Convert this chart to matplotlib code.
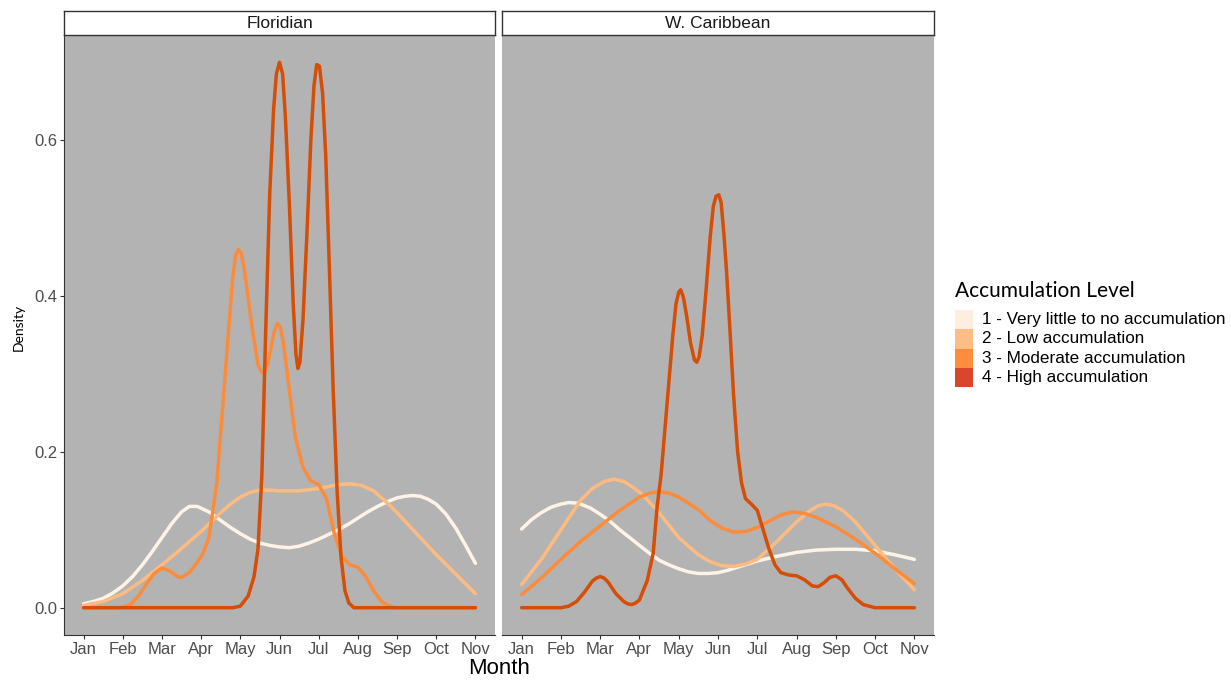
import matplotlib
matplotlib.use("Agg")
import matplotlib.pyplot as plt
from matplotlib.patches import Rectangle

plt.rcParams['font.family'] = ['Liberation Sans', 'DejaVu Sans']

# month ticks
month_labels = ["Jan", "Feb", "Mar", "Apr", "May", "Jun", "Jul", "Aug", "Sep", "Oct", "Nov"]
month_ticks = list(range(1, 12))
density_ticks = [0.0, 0.2, 0.4, 0.6]

facets = ["Floridian", "W. Caribbean"]
levels = ["1 - Very little to no accumulation", "2 - Low accumulation",
          "3 - Moderate accumulation", "4 - High accumulation"]

# Floridian densities
flo_m1 = [1, 1.25, 1.5, 1.75, 2, 2.25, 2.5, 2.75, 3, 3.25, 3.5, 3.7, 3.9, 4.2, 4.5, 4.75, 5, 5.25,
          5.5, 5.75, 6, 6.25, 6.5, 6.75, 7, 7.25, 7.5, 7.75, 8, 8.25, 8.5, 8.75, 9, 9.2, 9.4, 9.6,
          9.8, 10, 10.25, 10.5, 10.75, 11]
flo_d1 = [0.005, 0.008, 0.012, 0.019, 0.028, 0.04, 0.055, 0.072, 0.09, 0.108, 0.123, 0.13, 0.13,
          0.123, 0.112, 0.103, 0.095, 0.088, 0.083, 0.08, 0.078, 0.077, 0.079, 0.083, 0.088, 0.094,
          0.1, 0.107, 0.115, 0.123, 0.13, 0.136, 0.141, 0.143, 0.144, 0.143, 0.139, 0.133, 0.12,
          0.102, 0.08, 0.057]

flo_m2 = [1, 1.5, 2, 2.5, 3, 3.5, 4, 4.5, 4.75, 5, 5.25, 5.5, 5.75, 6, 6.5, 7, 7.5, 7.8, 8.1, 8.4,
          8.7, 9, 9.5, 10, 10.5, 11]
flo_d2 = [0.003, 0.008, 0.018, 0.035, 0.055, 0.076, 0.098, 0.122, 0.133, 0.142, 0.148, 0.151, 0.151,
          0.15, 0.15, 0.153, 0.158, 0.159, 0.157, 0.15, 0.137, 0.122, 0.095, 0.068, 0.043, 0.018]

flo_m3 = [1, 1.8, 2.0, 2.2, 2.4, 2.6, 2.8, 3.0, 3.2, 3.4, 3.5, 3.7, 3.9, 4.05, 4.2, 4.4, 4.6, 4.8,
          4.88, 4.95, 5.02, 5.1, 5.3, 5.45, 5.55, 5.65, 5.75, 5.87, 5.95, 6.02, 6.1, 6.2, 6.4, 6.6,
          6.8, 7.0, 7.2, 7.4, 7.6, 7.8, 8.0, 8.2, 8.4, 8.6, 8.8, 9.0, 11]
flo_d3 = [0, 0, 0.001, 0.004, 0.015, 0.03, 0.044, 0.051, 0.047, 0.04, 0.039, 0.045, 0.058, 0.07,
          0.09, 0.16, 0.29, 0.42, 0.452, 0.46, 0.455, 0.435, 0.36, 0.312, 0.302, 0.305, 0.325, 0.355,
          0.365, 0.36, 0.34, 0.30, 0.22, 0.18, 0.163, 0.158, 0.14, 0.095, 0.065, 0.055, 0.052, 0.04,
          0.022, 0.008, 0.002, 0, 0]

flo_m4 = [1, 4.8, 5.0, 5.2, 5.35, 5.45, 5.55, 5.65, 5.75, 5.85, 5.92, 6.0, 6.08, 6.15, 6.25, 6.35,
          6.42, 6.47, 6.52, 6.6, 6.7, 6.8, 6.88, 6.95, 7.02, 7.1, 7.18, 7.27, 7.37, 7.47, 7.57, 7.67,
          7.77, 7.9, 11]
flo_d4 = [0, 0, 0.002, 0.015, 0.04, 0.075, 0.17, 0.36, 0.53, 0.64, 0.685, 0.70, 0.685, 0.63, 0.52,
          0.39, 0.325, 0.307, 0.315, 0.37, 0.48, 0.6, 0.67, 0.697, 0.695, 0.66, 0.58, 0.44, 0.28,
          0.15, 0.065, 0.022, 0.006, 0, 0]

# W. Caribbean densities
car_m1 = [1, 1.25, 1.5, 1.75, 2, 2.2, 2.45, 2.75, 3, 3.25, 3.5, 3.75, 4, 4.25, 4.5, 4.75, 5, 5.25,
          5.5, 5.75, 6, 6.25, 6.5, 7, 7.5, 8, 8.5, 9, 9.5, 10, 10.5, 11]
car_d1 = [0.101, 0.113, 0.122, 0.129, 0.133, 0.135, 0.134, 0.128, 0.12, 0.111, 0.1, 0.09, 0.08,
          0.07, 0.061, 0.055, 0.05, 0.046, 0.044, 0.044, 0.045, 0.048, 0.052, 0.06, 0.066, 0.071,
          0.074, 0.075, 0.075, 0.073, 0.068, 0.062]

car_m2 = [1, 1.5, 2, 2.5, 2.8, 3.1, 3.35, 3.6, 3.85, 4.1, 4.5, 5, 5.5, 5.8, 6.1, 6.4, 6.7, 7, 7.5,
          8, 8.3, 8.55, 8.75, 8.95, 9.2, 9.5, 10, 10.5, 11]
car_d2 = [0.03, 0.062, 0.1, 0.138, 0.153, 0.162, 0.165, 0.162, 0.154, 0.144, 0.122, 0.09, 0.068,
          0.059, 0.054, 0.053, 0.056, 0.062, 0.085, 0.11, 0.123, 0.131, 0.133, 0.131, 0.124, 0.11,
          0.08, 0.05, 0.023]

car_m3 = [1, 1.5, 2, 2.5, 3, 3.5, 4, 4.25, 4.5, 4.75, 5, 5.5, 5.8, 6.1, 6.4, 6.7, 7, 7.3, 7.6, 7.9,
          8.2, 8.5, 9, 9.5, 10, 10.5, 11]
car_d3 = [0.017, 0.038, 0.062, 0.085, 0.105, 0.125, 0.142, 0.147, 0.149, 0.147, 0.142, 0.126, 0.112,
          0.102, 0.097, 0.098, 0.103, 0.111, 0.119, 0.123, 0.121, 0.116, 0.104, 0.088, 0.07, 0.05,
          0.031]

car_m4 = [1, 2.0, 2.2, 2.4, 2.6, 2.8, 2.9, 3.0, 3.1, 3.2, 3.4, 3.6, 3.7, 3.8, 3.9, 4.0, 4.2, 4.35,
          4.45, 4.55, 4.7, 4.85, 4.93, 5.0, 5.05, 5.12, 5.2, 5.3, 5.4, 5.46, 5.52, 5.6, 5.7, 5.8,
          5.88, 5.95, 6.02, 6.08, 6.15, 6.22, 6.3, 6.4, 6.5, 6.6, 6.7, 6.85, 7.0, 7.15, 7.3, 7.45,
          7.6, 7.8, 8.0, 8.2, 8.4, 8.55, 8.7, 8.85, 9.0, 9.15, 9.3, 9.5, 9.7, 10.0, 11]
car_d4 = [0, 0, 0.002, 0.008, 0.02, 0.034, 0.038, 0.04, 0.038, 0.033, 0.018, 0.008, 0.005, 0.004,
          0.006, 0.01, 0.035, 0.07, 0.13, 0.17, 0.26, 0.35, 0.39, 0.405, 0.408, 0.398, 0.375, 0.34,
          0.318, 0.315, 0.322, 0.35, 0.41, 0.475, 0.515, 0.528, 0.53, 0.52, 0.48, 0.43, 0.36, 0.27,
          0.2, 0.16, 0.14, 0.133, 0.125, 0.1, 0.075, 0.055, 0.045, 0.042, 0.041, 0.036, 0.028,
          0.027, 0.032, 0.039, 0.041, 0.036, 0.025, 0.012, 0.004, 0, 0]

line_colors = ['#fff3e6', '#fdbb80', '#fd8c3a', '#d64d05']
key_colors = ['#feeedf', '#fdbe85', '#fd8d3c', '#d9472b']

W, H = 1231, 680
fig = plt.figure(figsize=(W / 100, H / 100), dpi=100)

def fx(px):
    return px / W

def fy(py):
    return 1 - py / H

panel_x = [(64, 495), (502, 934)]
panel_top, panel_bot = 35, 635
strip_top = 11

data = [
    [(flo_m1, flo_d1), (flo_m2, flo_d2), (flo_m3, flo_d3), (flo_m4, flo_d4)],
    [(car_m1, car_d1), (car_m2, car_d2), (car_m3, car_d3), (car_m4, car_d4)],
]

for k, (x0, x1) in enumerate(panel_x):
    ax = fig.add_axes([fx(x0), fy(panel_bot), fx(x1 - x0), (panel_bot - panel_top) / H])
    ax.set_facecolor('#b3b3b3')
    for i, (m, d) in enumerate(data[k]):
        ax.plot(m, d, color=line_colors[i], lw=2.5, solid_capstyle='round', solid_joinstyle='round')
    ax.set_xlim(0.5, 11.5)
    ax.set_ylim(-0.035, 0.735)
    ax.set_xticks(month_ticks)
    ax.set_xticklabels(month_labels)
    ax.set_yticks(density_ticks)
    ax.set_yticklabels(["%.1f" % v for v in density_ticks])
    ax.tick_params(length=3, width=0.8, color='#333333', labelcolor='#4d4d4d', labelsize=12, pad=2)
    for s in ['top', 'right']:
        ax.spines[s].set_visible(False)
    ax.spines['bottom'].set_color('#333333')
    ax.spines['left'].set_color('#333333')
    if k == 1:
        ax.spines['left'].set_visible(False)
        ax.tick_params(axis='y', left=False, labelleft=False)

    # facet strip
    sax = fig.add_axes([fx(x0), fy(panel_top), fx(x1 - x0), (panel_top - strip_top) / H])
    sax.set_facecolor('white')
    sax.set_xticks([])
    sax.set_yticks([])
    for s in sax.spines.values():
        s.set_color('#333333')
        s.set_linewidth(1)
    sax.text(0.5, 0.5, facets[k], ha='center', va='center', fontsize=12.5, color='#1a1a1a',
             transform=sax.transAxes)

fig.text(fx(499), fy(668), "Month", ha='center', va='center', fontsize=16, color='black')
fig.text(fx(19), fy(327), "Density", ha='center', va='center', rotation=90, fontsize=10,
         color='black', family=['Lato', 'DejaVu Sans'])

# legend
fig.text(fx(955), fy(291), "Accumulation Level", ha='left', va='center', fontsize=15,
         color='black', family=['Lato', 'DejaVu Sans'])
key_top = 310
key_h = 19.3
for i, lab in enumerate(levels):
    y_top = key_top + i * key_h
    fig.patches.append(Rectangle((fx(955), fy(y_top + key_h)), fx(18), key_h / H,
                                 transform=fig.transFigure, facecolor=key_colors[i],
                                 edgecolor='none'))
    fig.text(fx(982), fy(y_top + key_h / 2), lab, ha='left', va='center', fontsize=12.3,
             color='black')

fig.savefig("out.png", dpi=100)
